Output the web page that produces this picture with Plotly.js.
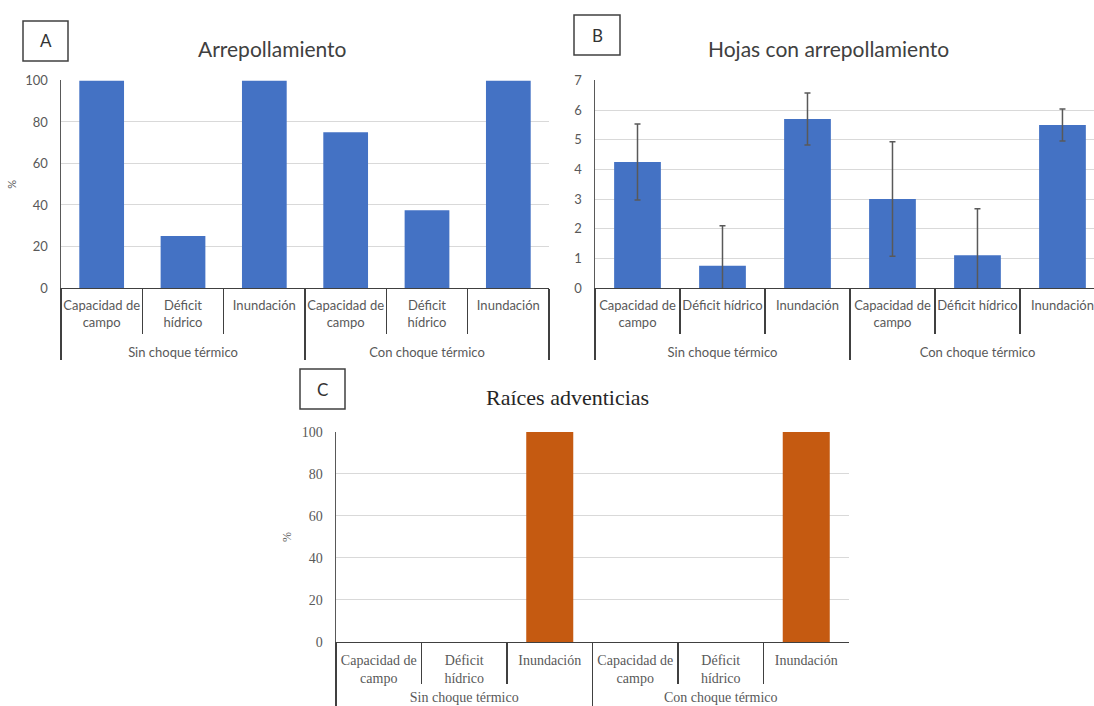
<!DOCTYPE html>
<html>
<head>
<meta charset="utf-8">
<script src="https://cdn.plot.ly/plotly-3.0.1.min.js"></script>
<style>html,body{margin:0;padding:0;background:#fff;}#chart{width:1094px;height:706px;}</style>
</head>
<body>
<div id="chart"></div>
<script>
// ---- data ----
const groups = ['Sin choque térmico','Sin choque térmico','Sin choque térmico','Con choque térmico','Con choque térmico','Con choque térmico'];
const treatmentsA = ['Capacidad de<br>campo','Déficit<br>hídrico','Inundación','Capacidad de<br>campo','Déficit<br>hídrico','Inundación'];
const treatmentsB = ['Capacidad de<br>campo','Déficit hídrico','Inundación','Capacidad de<br>campo','Déficit hídrico','Inundación'];
const treatmentsC = ['Capacidad de<br>campo','Déficit<br>hídrico','Inundación','Capacidad de<br>campo','Déficit<br>hídrico','Inundación'];
const arrepollamiento = [100, 25, 100, 75, 37.5, 100];
const hojas = [4.25, 0.75, 5.7, 3.0, 1.1, 5.5];
const hojasErr = [1.28, 1.35, 0.88, 1.93, 1.57, 0.54];
const raices = [0, 0, 100, 0, 0, 100];
const titleA = 'Arrepollamiento';
const titleB = 'Hojas con arrepollamiento';
const titleC = 'Raíces adventicias';

const BLUE = '#4472C4', ORANGE = '#C55A11';
const SANS = 'Lato, "Open Sans", sans-serif';
const SERIF = '"Liberation Serif", "DejaVu Serif", serif';

// an extra blank line under each first-level label leaves room for the group labels
const pad = t => t + '<br>\u00a0';
// panel C: a smaller extra room (large blank space around the last line)
const SP = '<span style="font-size:36px">\u00a0</span>';
const padC = t => {
  const i = t.lastIndexOf('<br>');
  if (i < 0) return t;
  return t.slice(0, i + 4) + SP + t.slice(i + 4) + SP;
};

const traces = [
  {type:'bar', x:[groups, treatmentsA.map(pad)], y:arrepollamiento, marker:{color:BLUE}, xaxis:'x', yaxis:'y', hoverinfo:'none'},
  {type:'bar', x:[groups, treatmentsB.map(pad)], y:hojas, marker:{color:BLUE}, xaxis:'x2', yaxis:'y2', hoverinfo:'none',
   error_y:{type:'data', array:hojasErr, visible:true, color:'#595959', thickness:1.5, width:3}},
  {type:'bar', x:[groups, treatmentsC.map(padC)], y:raices, marker:{color:ORANGE}, xaxis:'x3', yaxis:'y3', hoverinfo:'none'}
];

function xax(domain, anchor, font, ticklen, standoff, range) {
  const a = {
    type:'multicategory', domain:domain, anchor:anchor, tickangle:0,
    showline:true, linecolor:'#404040', linewidth:1.3,
    ticks:'outside', tickson:'boundaries', ticklen:ticklen, tickcolor:'#404040', tickwidth:1.3,
    showdividers:true, dividercolor:'#404040', dividerwidth:1.3,
    tickfont:font, ticklabelstandoff:standoff, showgrid:false, automargin:false, fixedrange:true
  };
  if (range) { a.range = range; a.autorange = false; }
  return a;
}
function yax(domain, anchor, range, dtick, font, title) {
  const a = {
    domain:domain, anchor:anchor, range:range, autorange:false, dtick:dtick, tick0:0,
    showline:true, linecolor:'#595959', linewidth:1.5, ticks:'', ticklabelstandoff:9,
    showgrid:true, gridcolor:'#d9d9d9', gridwidth:1, zeroline:false,
    tickfont:font, automargin:false, fixedrange:true
  };
  if (title) a.title = title;
  return a;
}

const fontAB = {family:SANS, size:13, color:'#595959'};
const fontC = {family:SERIF, size:14, color:'#595959'};

const layout = {
  width:1094, height:706, margin:{l:0, r:0, t:0, b:0},
  paper_bgcolor:'#fff', plot_bgcolor:'#fff', showlegend:false, bargap:0.45,
  xaxis: xax([0.05576, 0.50183], 'y', fontAB, 45, 5),
  yaxis: yax([0.5921, 0.886], 'x', [0, 100], 20, fontAB, {text:'%', font:{family:SANS, size:11, color:'#595959'}, standoff:6}),
  xaxis2: xax([0.54388, 1], 'y2', fontAB, 45, 5, [-0.5, 5.371]),
  yaxis2: yax([0.5921, 0.886], 'x2', [0, 7], 1, fontAB),
  xaxis3: xax([0.30713, 0.77605], 'y3', fontC, 41, 5),
  yaxis3: yax([0.0907, 0.3881], 'x3', [0, 100], 20, fontC, {text:'%', font:{family:SERIF, size:12, color:'#595959'}, standoff:7}),
  annotations: [
    {text:titleA, xref:'paper', yref:'paper', x:272/1094, y:1-49/706, showarrow:false, xanchor:'center', yanchor:'middle', font:{family:SANS, size:21, color:'#404040'}},
    {text:titleB, xref:'paper', yref:'paper', x:828/1094, y:1-49/706, showarrow:false, xanchor:'center', yanchor:'middle', font:{family:SANS, size:21, color:'#404040'}},
    {text:titleC, xref:'paper', yref:'paper', x:568/1094, y:1-397/706, showarrow:false, xanchor:'center', yanchor:'middle', font:{family:SERIF, size:22, color:'#262626'}},
    {text:'A', xref:'paper', yref:'paper', x:45.5/1094, y:1-41/706, showarrow:false, xanchor:'center', yanchor:'middle', font:{family:SANS, size:17, color:'#333'}},
    {text:'B', xref:'paper', yref:'paper', x:597/1094, y:1-35/706, showarrow:false, xanchor:'center', yanchor:'middle', font:{family:SANS, size:17, color:'#333'}},
    {text:'C', xref:'paper', yref:'paper', x:322.5/1094, y:1-389/706, showarrow:false, xanchor:'center', yanchor:'middle', font:{family:SANS, size:17, color:'#333'}}
  ],
  shapes: [
    {type:'rect', xref:'paper', yref:'paper', x0:23/1094, x1:68/1094, y0:1-21/706, y1:1-61/706, line:{color:'#404040', width:1.5}},
    {type:'rect', xref:'paper', yref:'paper', x0:574/1094, x1:620/1094, y0:1-15/706, y1:1-55/706, line:{color:'#404040', width:1.5}},
    {type:'rect', xref:'paper', yref:'paper', x0:300/1094, x1:345/1094, y0:1-369/706, y1:1-409/706, line:{color:'#404040', width:1.5}}
  ]
};

Plotly.newPlot('chart', traces, layout, {displayModeBar:false, staticPlot:true});
</script>
</body>
</html>
